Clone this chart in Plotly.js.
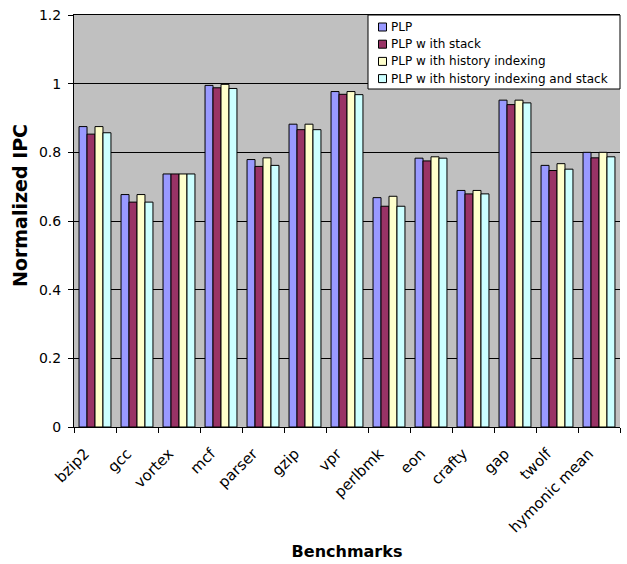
<!DOCTYPE html>
<html>
<head>
<meta charset="utf-8">
<script src="https://cdn.plot.ly/plotly-3.0.1.min.js"></script>
<style>html,body{margin:0;padding:0;background:#fff;}#chart{width:627px;height:564px;}</style>
</head>
<body>
<div id="chart"></div>
<script>
// Benchmarks on the x axis
const benchmarks = ["bzip2", "gcc", "vortex", "mcf", "parser", "gzip", "vpr", "perlbmk", "eon", "crafty", "gap", "twolf", "hymonic mean"];

// Normalized IPC per configuration
const plp              = [0.875, 0.677, 0.737, 0.995, 0.779, 0.882, 0.977, 0.668, 0.783, 0.689, 0.952, 0.762, 0.800];
const plpStack         = [0.853, 0.655, 0.737, 0.988, 0.759, 0.866, 0.969, 0.643, 0.775, 0.679, 0.939, 0.747, 0.784];
const plpHistory       = [0.875, 0.677, 0.737, 0.998, 0.784, 0.882, 0.977, 0.672, 0.787, 0.689, 0.952, 0.767, 0.800];
const plpHistoryStack  = [0.857, 0.655, 0.737, 0.986, 0.762, 0.866, 0.968, 0.643, 0.783, 0.679, 0.944, 0.751, 0.787];

const seriesNames  = ["PLP", "PLP w ith stack", "PLP w ith history indexing", "PLP w ith history indexing and stack"];
const seriesColors = ["#9999FF", "#993366", "#FFFFCC", "#CCFFFF"];
const seriesValues = [plp, plpStack, plpHistory, plpHistoryStack];

const FONT = "DejaVu Sans, Verdana, sans-serif";
const W = 627, H = 564;
const M = { l: 74, r: 7, t: 15, b: 137 };
const plotW = W - M.l - M.r, plotH = H - M.t - M.b;
// pixel -> paper helpers for the boxed legend
const px = x => (x - M.l) / plotW;
const py = y => (H - M.b - y) / plotH;

const traces = seriesValues.map((vals, i) => ({
  type: "bar",
  name: seriesNames[i],
  x: benchmarks,
  y: vals,
  marker: { color: seriesColors[i], line: { color: "#000", width: 1 } }
}));

// Compact boxed legend in the top-right corner of the plot
const shapes = [{
  type: "rect", xref: "paper", yref: "paper",
  x0: px(368), x1: 1, y0: py(89), y1: 1,
  fillcolor: "#ffffff", line: { color: "#000", width: 1 }, layer: "above"
}];
const annotations = [];
seriesNames.forEach((name, i) => {
  const cy = 27 + i * 17.2;
  shapes.push({
    type: "rect", xref: "paper", yref: "paper",
    x0: px(378.5), x1: px(386.5), y0: py(cy + 4), y1: py(cy - 4),
    fillcolor: seriesColors[i], line: { color: "#000", width: 1 }, layer: "above"
  });
  annotations.push({
    xref: "paper", yref: "paper", x: px(389), y: py(cy),
    xanchor: "left", yanchor: "middle", showarrow: false,
    text: name, font: { family: FONT, size: 12, color: "#000" }
  });
});

// y axis title, rotated
annotations.push({
  xref: "paper", yref: "paper", x: px(20), y: py(206),
  xanchor: "center", yanchor: "middle", showarrow: false, textangle: -90,
  text: "Normalized IPC", font: { family: FONT, size: 19, weight: "bold", color: "#000" }
});

const layout = {
  width: W,
  height: H,
  margin: M,
  paper_bgcolor: "#ffffff",
  plot_bgcolor: "#C0C0C0",
  font: { family: FONT, color: "#000" },
  barmode: "group",
  bargap: 0.24,
  bargroupgap: 0,
  showlegend: false,
  shapes: shapes,
  annotations: annotations,
  xaxis: {
    type: "category",
    tickangle: -45,
    tickfont: { size: 15 },
    ticks: "outside", ticklen: 5, tickcolor: "#000",
    tickson: "boundaries",
    ticklabelstandoff: 11,
    ticklabelshift: -10,
    showline: true, mirror: true, linecolor: "#000", linewidth: 1,
    showgrid: false,
    title: { text: "Benchmarks", font: { size: 16, weight: "bold" }, standoff: 10 }
  },
  yaxis: {
    range: [0, 1.2],
    dtick: 0.2,
    tickfont: { size: 14 },
    ticks: "outside", ticklen: 5, tickcolor: "#000",
    ticklabelstandoff: 4,
    showline: true, linecolor: "#000", linewidth: 1,
    showgrid: true, gridcolor: "#000", gridwidth: 1,
    zeroline: false
  }
};

Plotly.newPlot("chart", traces, layout, { displayModeBar: false, staticPlot: true });
</script>
</body>
</html>
